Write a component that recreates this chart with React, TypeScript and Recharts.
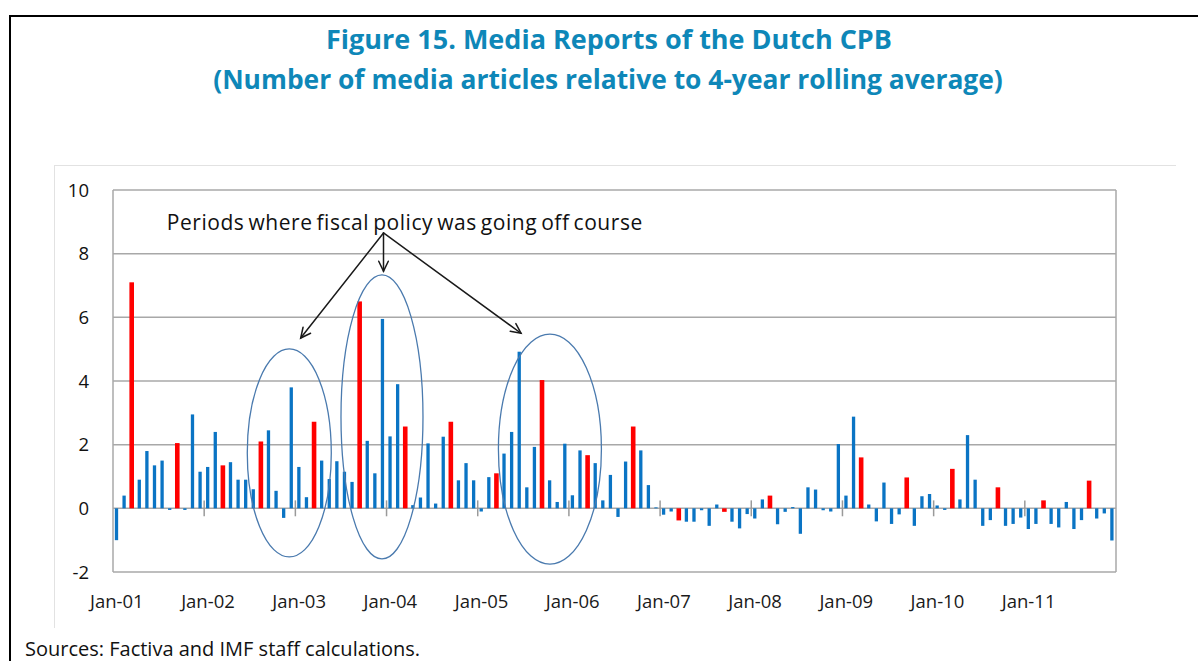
import React from 'react';
import { ComposedChart, Bar, XAxis, YAxis, CartesianGrid, ReferenceLine, ReferenceDot } from 'recharts';

// ---------- data ----------
const yearLabels = ['Jan-01', 'Jan-02', 'Jan-03', 'Jan-04', 'Jan-05', 'Jan-06', 'Jan-07', 'Jan-08', 'Jan-09', 'Jan-10', 'Jan-11'];

// monthly values, Jan-01 .. Dec-11 (132 months)
const articleValues = [
  -1.0, 0.4, 7.1, 0.9, 1.8, 1.35, 1.5, -0.05, 2.05, -0.05, 2.95, 1.15,
  1.3, 2.4, 1.35, 1.45, 0.9, 0.9, 0.6, 2.1, 2.45, 0.55, -0.3, 3.8,
  1.3, 0.35, 2.72, 1.5, 0.92, 1.48, 1.15, 0.83, 6.5, 2.12, 1.1, 5.95,
  2.26, 3.9, 2.57, 0.1, 0.34, 2.04, 0.15, 2.25, 2.72, 0.88, 1.42, 0.88,
  -0.1, 0.98, 1.1, 1.72, 2.4, 4.92, 0.66, 1.93, 4.03, 0.88, 0.2, 2.03,
  0.41, 1.82, 1.67, 1.42, 0.25, 1.05, -0.27, 1.47, 2.57, 1.82, 0.73, 0.03,
  -0.2, -0.1, -0.38, -0.42, -0.42, -0.06, -0.55, 0.12, -0.11, -0.42, -0.63, -0.18,
  -0.32, 0.28, 0.4, -0.5, -0.11, 0.04, -0.8, 0.66, 0.59, -0.06, -0.1, 2.02,
  0.4, 2.88, 1.6, 0.12, -0.41, 0.81, -0.49, -0.19, 0.97, -0.55, 0.38, 0.45,
  0.09, -0.05, 1.24, 0.28, 2.3, 0.9, -0.55, -0.37, 0.66, -0.55, -0.49, -0.29,
  -0.65, -0.49, 0.25, -0.49, -0.6, 0.2, -0.65, -0.37, 0.87, -0.32, -0.16, -1.01,
];

// months highlighted in red (index from Jan-01)
const redMonths = [2, 8, 14, 19, 26, 32, 38, 44, 50, 56, 62, 68, 74, 80, 86, 98, 104, 110, 116, 122, 128];

const yTicks = [-2, 0, 2, 4, 6, 8, 10];

const annotationText = 'Periods where fiscal policy was going off course';

// annotation anchors in data units (month index, value)
const arrowFrom = { x: 35.1, y: 8.65 };
const arrowTargets = [
  { x: 24.2, y: 5.35 },
  { x: 35.1, y: 7.45 },
  { x: 53.2, y: 5.5 },
];
const ellipseCenters = [
  { x: 22.7, y: 1.74 },
  { x: 34.9, y: 2.87 },
  { x: 57.0, y: 1.86 },
];
const ellipseRadii = [
  { rx: 42, ry: 104 },
  { rx: 41, ry: 142 },
  { rx: 51.5, ry: 115 },
];

// ---------- styles ----------
const RED = '#FF0000';
const BLUE = '#0A74C4';
const GRID = '#A8A8A8';
const FONT = '"Open Sans", "Noto Sans", sans-serif';
const TITLE_COLOR = '#0E87B8';

const chartData = articleValues.map((v, i) => ({ idx: i, value: v, red: redMonths.includes(i) }));
const labelTicks = yearLabels.map((_, k) => k * 12);
const boundaryTicks = yearLabels.slice(1).map((_, k) => (k + 1) * 12 - 0.5);

const BarShape = (props: any) => {
  const { x, y, width, height, payload } = props;
  if (x == null || y == null) return null;
  const isRed = payload && payload.red;
  const w = isRed ? 4.6 : 3.3;
  const cx = x + width / 2;
  const top = Math.min(y, y + height);
  const h = Math.abs(height);
  return <rect x={cx - w / 2} y={top} width={w} height={h} fill={isRed ? RED : BLUE} />;
};

const ArrowShape = (props: any) => {
  const { x1, y1, x2, y2 } = props;
  if ([x1, y1, x2, y2].some((v) => v == null || isNaN(v))) return null;
  const ang = Math.atan2(y2 - y1, x2 - x1);
  const len = 11;
  const spread = 0.45;
  const a1x = x2 - len * Math.cos(ang - spread);
  const a1y = y2 - len * Math.sin(ang - spread);
  const a2x = x2 - len * Math.cos(ang + spread);
  const a2y = y2 - len * Math.sin(ang + spread);
  return (
    <g stroke="#1a1a1a" strokeWidth={1.5} fill="none" strokeLinecap="round">
      <line x1={x1} y1={y1} x2={x2} y2={y2} />
      <polyline points={`${a1x},${a1y} ${x2},${y2} ${a2x},${a2y}`} />
    </g>
  );
};

const makeEllipse = (rx: number, ry: number) => (props: any) => {
  const { cx, cy } = props;
  if (cx == null || cy == null) return null;
  return <ellipse cx={cx} cy={cy} rx={rx} ry={ry} fill="none" stroke="#4A7AAE" strokeWidth={1.3} />;
};

const TextShape = (props: any) => {
  const { cx, cy } = props;
  if (cx == null || cy == null) return null;
  return (
    <text x={cx} y={cy} textAnchor="middle" dominantBaseline="central" fontFamily={FONT} fontSize={21} fill="#111" wordSpacing={-2} letterSpacing={0.55}>
      {annotationText}
    </text>
  );
};

const TickShape = (props: any) => {
  const { x1, y1, x2, y2 } = props;
  if ([x1, y1, x2, y2].some((v) => v == null || isNaN(v))) return null;
  return <line x1={x1} y1={y1} x2={x2} y2={y2} stroke="#9a9a9a" strokeWidth={1.5} />;
};

export default function App() {
  return (
    <div style={{ position: 'absolute', left: 0, top: 0, width: 1198, height: 661, background: '#fff', overflow: 'hidden' }}>
      {/* outer black frame */}
      <div style={{ position: 'absolute', left: 9, top: 15, width: 1400, height: 900, border: '2px solid #000', boxSizing: 'border-box' }} />
      {/* light chart frame */}
      <div style={{ position: 'absolute', left: 54, top: 165, width: 1122, height: 463, borderTop: '1px solid #E2E2E2', borderLeft: '1px solid #E2E2E2', boxSizing: 'border-box' }} />
      <svg width={1198} height={661} style={{ position: 'absolute', left: 0, top: 0 }}>
        <text x={609} y={49} textAnchor="middle" fontFamily={FONT} fontWeight={700} fontSize={27} fill={TITLE_COLOR}>
          Figure 15. Media Reports of the Dutch CPB
        </text>
        <text x={608} y={89} textAnchor="middle" fontFamily={FONT} fontWeight={700} fontSize={26.4} fill={TITLE_COLOR}>
          (Number of media articles relative to 4-year rolling average)
        </text>
        <text x={25} y={655.5} fontFamily={FONT} fontSize={20} fill="#111">
          Sources: Factiva and IMF staff calculations.
        </text>
      </svg>
      <div style={{ position: 'absolute', left: 55, top: 165 }}>
        <ComposedChart width={1121} height={463} data={chartData} margin={{ top: 25, right: 0, bottom: 0, left: 0 }}>
          <CartesianGrid yAxisId="left" vertical={false} stroke={GRID} strokeWidth={1.5} />
          <XAxis
            dataKey="idx"
            type="number"
            domain={[-0.5, 131.5]}
            allowDataOverflow
            ticks={labelTicks}
            interval={0}
            tickFormatter={(v: number) => yearLabels[Math.round(v / 12)]}
            axisLine={false}
            tickLine={false}
            tickSize={0}
            tickMargin={23}
            height={56}
            tick={{ fill: '#1a1a1a', fontSize: 18.5, fontFamily: FONT }}
          />
          <YAxis
            yAxisId="left"
            domain={[-2, 10]}
            ticks={yTicks}
            interval={0}
            axisLine={{ stroke: GRID, strokeWidth: 1.5 }}
            tickLine={false}
            tickSize={0}
            tickMargin={24}
            width={58}
            tick={{ fill: '#111', fontSize: 18.5, fontFamily: FONT }}
          />
          <YAxis
            yAxisId="right"
            orientation="right"
            domain={[-2, 10]}
            ticks={yTicks}
            interval={0}
            axisLine={{ stroke: GRID, strokeWidth: 1.5 }}
            tickLine={false}
            tickSize={0}
            tickMargin={21}
            width={60}
            tick={{ fill: '#111', fontSize: 18.5, fontFamily: FONT }}
          />
          <Bar yAxisId="left" dataKey="value" barSize={5} shape={BarShape} isAnimationActive={false} />
          {boundaryTicks.map((b) => (
            <ReferenceLine
              key={`t${b}`}
              yAxisId="left"
              segment={[{ x: b, y: -0.25 }, { x: b, y: 0.25 }]}
              shape={TickShape}
            />
          ))}
          {ellipseCenters.map((c, i) => (
            <ReferenceDot
              key={`e${i}`}
              yAxisId="left"
              x={c.x}
              y={c.y}
              r={1}
              shape={makeEllipse(ellipseRadii[i].rx, ellipseRadii[i].ry)}
            />
          ))}
          {arrowTargets.map((t, i) => (
            <ReferenceLine
              key={`a${i}`}
              yAxisId="left"
              segment={[arrowFrom, t]}
              shape={ArrowShape}
            />
          ))}
          <ReferenceDot yAxisId="left" x={37.9} y={8.98} r={1} shape={TextShape} />
        </ComposedChart>
      </div>
    </div>
  );
}
